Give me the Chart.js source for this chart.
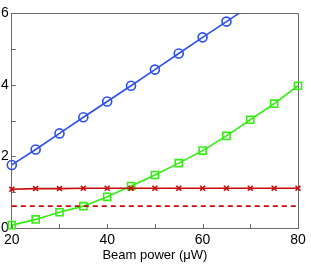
<!DOCTYPE html>
<html>
<head>
<meta charset="utf-8">
<script src="https://cdn.jsdelivr.net/npm/chart.js@4/dist/chart.umd.min.js"></script>
<style>
  html, body { margin: 0; padding: 0; background: #fff; }
  #wrap { width: 311px; height: 264px; }
</style>
</head>
<body>
<div id="wrap"><canvas id="chart" width="311" height="264"></canvas></div>
<script>
// beam power (uW)
const power = [20, 25, 30, 35, 40, 45, 50, 55, 60, 65, 70, 75, 80];

// series
const blueCircles = [1.76, 2.19, 2.64, 3.09, 3.53, 3.97, 4.42, 4.87, 5.32, 5.76, 6.2, 6.64, 7.09];
const greenSquares = [0.08, 0.24, 0.44, 0.61, 0.87, 1.17, 1.48, 1.81, 2.16, 2.57, 3.02, 3.47, 3.97];
const redCrosses = [1.08, 1.1, 1.1, 1.11, 1.11, 1.11, 1.11, 1.11, 1.11, 1.11, 1.11, 1.11, 1.11];
const redDashed = [0.61, 0.61, 0.61, 0.61, 0.61, 0.61, 0.61, 0.61, 0.61, 0.61, 0.61, 0.61, 0.61];

const xLabels = [20, 40, 60, 80];
const yLabels = [0, 2, 4, 6];

const axisColor = '#6a6a6a';

function toPoints(ys) {
    return power.map((x, i) => ({ x: x, y: ys[i] }));
}

// inward ticks + top/right box, matlab style
const boxTicks = {
    id: 'boxTicks',
    beforeDatasetsDraw(chart) {
        const { ctx, chartArea: a, scales } = chart;
        ctx.save();
        ctx.strokeStyle = axisColor;
        ctx.lineWidth = 1;
        ctx.beginPath();
        ctx.moveTo(a.left, a.top + 0.5);
        ctx.lineTo(a.right + 0.5, a.top + 0.5);
        ctx.lineTo(a.right + 0.5, a.bottom);
        scales.x.ticks.forEach(t => {
            const px = Math.round(scales.x.getPixelForValue(t.value)) + 0.5;
            ctx.moveTo(px, a.bottom);
            ctx.lineTo(px, a.bottom - 4);
        });
        scales.y.ticks.forEach(t => {
            const py = Math.round(scales.y.getPixelForValue(t.value)) + 0.5;
            ctx.moveTo(a.left, py);
            ctx.lineTo(a.left + 4, py);
        });
        ctx.stroke();
        ctx.restore();
    }
};

const clipBox = { left: 8, right: 8, top: 0, bottom: 8 };

new Chart(document.getElementById('chart'), {
    type: 'line',
    data: {
        datasets: [
            {
                data: toPoints(redDashed),
                borderColor: '#c80a0a',
                borderWidth: 1.7,
                borderDash: [5, 4],
                pointRadius: 0,
                clip: clipBox
            },
            {
                data: toPoints(redCrosses),
                borderColor: '#c80a0a',
                borderWidth: 1.6,
                pointStyle: 'crossRot',
                pointRadius: 3.5,
                pointBorderWidth: 1.6,
                clip: clipBox
            },
            {
                data: toPoints(greenSquares),
                borderColor: '#33ee11',
                borderWidth: 1.6,
                pointStyle: 'rect',
                pointRadius: 5,
                pointBorderWidth: 1.6,
                pointBackgroundColor: 'rgba(0,0,0,0)',
                clip: clipBox
            },
            {
                data: toPoints(blueCircles),
                borderColor: '#2d4ff0',
                borderWidth: 1.6,
                pointStyle: 'circle',
                pointRadius: 4.5,
                pointBorderWidth: 1.6,
                pointBackgroundColor: 'rgba(0,0,0,0)',
                clip: clipBox
            }
        ]
    },
    options: {
        responsive: false,
        animation: false,
        layout: { padding: { top: 13, right: 13, left: 0, bottom: 0 } },
        plugins: { legend: { display: false }, tooltip: { enabled: false } },
        scales: {
            x: {
                type: 'linear',
                min: 20,
                max: 80,
                afterFit: s => { s.height = 36; },
                border: { display: true, color: axisColor, width: 1 },
                grid: { display: true, drawOnChartArea: false, drawTicks: false, color: axisColor },
                ticks: {
                    stepSize: 10,
                    padding: 4,
                    maxRotation: 0,
                    color: '#000',
                    font: { family: 'Liberation Sans', size: 14 },
                    callback: v => xLabels.includes(v) ? String(v) : ''
                },
                title: {
                    display: true,
                    text: 'Beam power (μW)',
                    color: '#000',
                    font: { family: 'Liberation Sans', size: 13 },
                    padding: { top: 0, bottom: 1 }
                }
            },
            y: {
                type: 'linear',
                min: 0,
                max: 6,
                afterFit: s => { s.width = 11; },
                border: { display: true, color: axisColor, width: 1 },
                grid: { display: true, drawOnChartArea: false, drawTicks: false, color: axisColor },
                ticks: {
                    stepSize: 1,
                    padding: 3,
                    color: '#000',
                    font: { family: 'Liberation Sans', size: 14 },
                    callback: v => yLabels.includes(v) ? String(v) : ''
                }
            }
        }
    },
    plugins: [boxTicks]
});
</script>
</body>
</html>
